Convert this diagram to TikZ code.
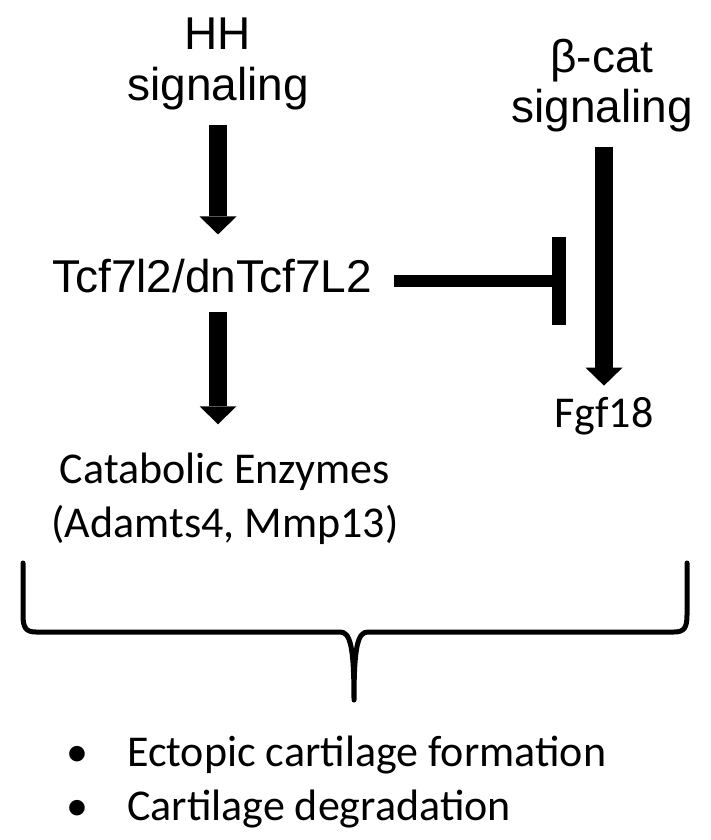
\documentclass[tikz,border=0pt]{standalone}
\usepackage{fontspec}
\setmainfont{Liberation Sans}
\newfontfamily\calibfont{Carlito}
\usetikzlibrary{arrows.meta}

\begin{document}
\begin{tikzpicture}[x=1pt, y=-1pt,
  arialtext/.style={inner sep=0pt, align=center, font=\fontsize{46}{51}\selectfont},
  calibtext/.style={inner sep=0pt, align=center, font=\calibfont\fontsize{44}{54}\selectfont},
  fatarrow/.style={line width=18pt, -{Triangle[length=18pt,width=37pt,line width=0pt]}},
  blockline/.style={line width=12pt, -{Bar[width=88pt,line width=14pt]}}]

\useasboundingbox (0,0) rectangle (710,840);

%Signals at the top
\node[arialtext, anchor=base] (hh) at (218,101) {HH\\signaling};
\node[arialtext, anchor=base] (bcat) at (602,123) {β-cat\\signaling};

%Targets
\node[arialtext, anchor=base] (tcf) at (212,292) {Tcf7l2/dnTcf7L2};
\node[calibtext, anchor=base] (fgf) at (604,427) {Fgf18};
\node[calibtext, anchor=base] (cat) at (225,537) {Catabolic Enzymes\\(Adamts4, Mmp13)};
\coordinate (blk) at (566,281);

%Arrows between them
\draw[fatarrow, shorten <=14pt, shorten >=24pt] (hh.south) -- (hh.south |- tcf.north);
\draw[fatarrow, shorten <=19pt, shorten >=28pt] (tcf.south -| hh.south) -- (cat.north -| hh.south);
\draw[fatarrow, shorten <=14pt, shorten >=11pt] (bcat.south -| fgf.north) -- (fgf.north);
\draw[blockline] ([xshift=22pt]tcf.east |- blk) -- (blk);

%Brace over the outcomes
\draw[line width=5pt, line cap=round, line join=round] (23,563) -- (23,615)
  .. controls (23,628) and (26,632) .. (36,632) -- (340,632)
  .. controls (350,632) and (354,645) .. (354,700)
  .. controls (354,645) and (358,632) .. (368,632) -- (674,632)
  .. controls (684,632) and (687,628) .. (687,615) -- (687,563);

%Outcomes
\node[calibtext, align=left, anchor=base west] (effects) at (66,820)
  {\makebox[61pt][l]{•}Ectopic cartilage formation\\\makebox[61pt][l]{•}Cartilage degradation};

\end{tikzpicture}
\end{document}
